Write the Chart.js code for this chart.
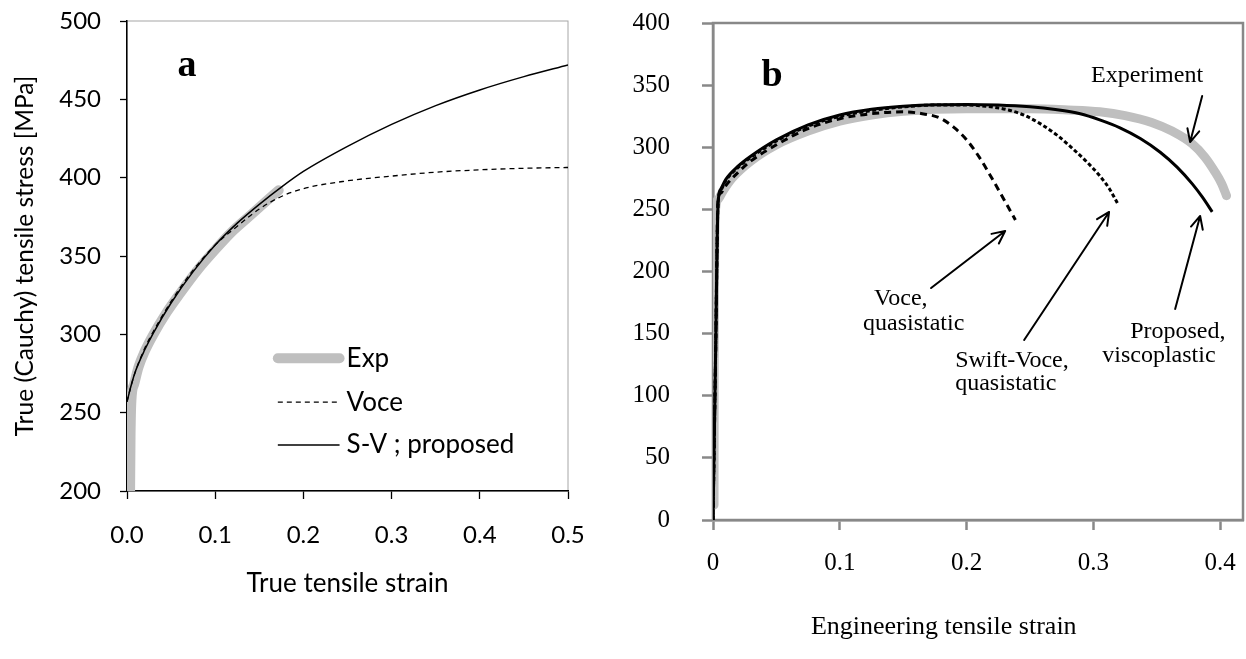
<!DOCTYPE html>
<html>
<head>
<meta charset="utf-8">
<script src="https://cdn.jsdelivr.net/npm/chart.js@4.4.0/dist/chart.umd.min.js"></script>
<style>
  body { margin: 0; background: #fff; width: 1246px; height: 659px; overflow: hidden; position: relative; }
  canvas { position: absolute; top: 0; }
  #chart-a { left: 0; }
  #chart-b { left: 620px; }
</style>
</head>
<body>
<canvas id="chart-a" width="610" height="659"></canvas>
<canvas id="chart-b" width="626" height="659"></canvas>
<script>
// ---- panel a: true stress vs true strain ----
const aExpStrain = [0.0035, 0.004, 0.005, 0.008, 0.013, 0.02, 0.03, 0.045, 0.06, 0.08, 0.1, 0.12, 0.14, 0.16, 0.172];
const aExpStress = [200, 235, 258, 268, 279, 289, 300, 314, 326, 341, 354, 366, 376, 386, 392];
const aVoceStrain = [0, 0.005, 0.01, 0.02, 0.03, 0.05, 0.075, 0.1, 0.125, 0.15, 0.175, 0.2, 0.25, 0.3, 0.35, 0.4, 0.45, 0.5];
const aVoceStress = [257, 268, 277, 291, 302, 321, 341, 357, 369, 380, 388, 393, 398, 401, 403.5, 405, 406, 406.5];
const aSvStrain = [0, 0.005, 0.01, 0.02, 0.03, 0.05, 0.075, 0.1, 0.125, 0.15, 0.175, 0.2, 0.25, 0.3, 0.35, 0.4, 0.45, 0.5];
const aSvStress = [257, 268, 277, 290, 301, 320, 340, 357, 371, 383, 394, 404, 420, 434, 446, 456, 464.5, 472];
const aStrainTicks = [0, 0.1, 0.2, 0.3, 0.4, 0.5];
const aStressTicks = [200, 250, 300, 350, 400, 450, 500];

// ---- panel b: engineering stress vs engineering strain ----
const bExpStrain = [0.0008, 0.001, 0.002, 0.004, 0.008, 0.015, 0.03, 0.05, 0.075, 0.1, 0.125, 0.15, 0.2, 0.25, 0.28, 0.305, 0.325, 0.346, 0.362, 0.378, 0.388, 0.396, 0.401, 0.405];
const bExpStress = [12, 150, 250, 258, 265, 275, 289, 302, 313, 321, 326, 329, 331, 331, 330, 328.5, 325.5, 320, 313, 302.7, 292, 280, 271, 261];
const bVoceStrain = [0, 0.002, 0.004, 0.006, 0.01, 0.02, 0.03, 0.05, 0.075, 0.1, 0.125, 0.15, 0.165, 0.179, 0.19, 0.2, 0.21, 0.22, 0.23, 0.2385];
const bVoceStress = [0, 130, 258, 263, 269, 280, 289, 302, 315, 323, 327, 328.5, 327, 323.5, 316, 306, 292, 275, 257, 241.5];
const bSwiftStrain = [0, 0.002, 0.004, 0.006, 0.01, 0.02, 0.03, 0.05, 0.075, 0.1, 0.125, 0.15, 0.175, 0.2, 0.215, 0.233, 0.246, 0.258, 0.271, 0.283, 0.295, 0.305, 0.313, 0.3195];
const bSwiftStress = [0, 130, 255, 265, 273, 284, 292, 305, 317, 325, 329.5, 332.5, 334, 334, 333, 330, 325.5, 319, 310, 299.5, 288, 277, 266, 254];
const bPropStrain = [0, 0.002, 0.004, 0.006, 0.01, 0.02, 0.03, 0.05, 0.075, 0.1, 0.125, 0.15, 0.175, 0.2, 0.225, 0.25, 0.27, 0.2896, 0.305, 0.321, 0.337, 0.3527, 0.366, 0.378, 0.386, 0.3937];
const bPropStress = [0, 130, 255, 266, 274, 285, 293, 306, 318, 326, 330.5, 333, 334.3, 334.5, 334, 332.5, 330.3, 326.9, 322, 315.6, 307, 296, 284, 270.5, 259.8, 248];
const bStrainTicks = [0, 0.1, 0.2, 0.3, 0.4];
const bStressTicks = [0, 50, 100, 150, 200, 250, 300, 350, 400];

const sans = 'Lato, "Open Sans", sans-serif';
const serif = '"Liberation Serif", "DejaVu Serif", serif';

function pts(xs, ys) {
    return xs.map((x, i) => ({ x: x, y: ys[i] }));
}

// plot-area frame, drawn before the axes so the axis lines sit on top
const frame = {
    id: 'frame',
    beforeDraw(chart, args, opts) {
        const { ctx, chartArea: a } = chart;
        ctx.save();
        ctx.strokeStyle = opts.color;
        ctx.lineWidth = opts.width;
        ctx.strokeRect(a.left, a.top, a.right - a.left, a.bottom - a.top);
        ctx.restore();
    }
};

// legend drawn inside the plot (panel a)
const innerLegend = {
    id: 'innerLegend',
    afterDatasetsDraw(chart, args, opts) {
        if (!opts.rows) return;
        const { ctx, scales: { x, y } } = chart;
        ctx.save();
        ctx.font = opts.font;
        ctx.fillStyle = '#000';
        ctx.textBaseline = 'middle';
        chart.data.datasets.forEach((ds, i) => {
            const py = y.getPixelForValue(opts.rows[i]);
            ctx.beginPath();
            ctx.strokeStyle = ds.borderColor;
            ctx.lineWidth = ds.borderWidth;
            ctx.lineCap = ds.borderCapStyle || 'butt';
            ctx.setLineDash(ds.borderDash || []);
            ctx.moveTo(x.getPixelForValue(opts.x0), py);
            ctx.lineTo(x.getPixelForValue(opts.x1), py);
            ctx.stroke();
            ctx.setLineDash([]);
            ctx.fillText(ds.label, x.getPixelForValue(opts.tx), py);
        });
        ctx.restore();
    }
};

// free text and arrows, positioned in data units
const notes = {
    id: 'notes',
    afterDatasetsDraw(chart, args, opts) {
        const { ctx, scales: { x, y } } = chart;
        ctx.save();
        ctx.fillStyle = '#000';
        ctx.textBaseline = 'alphabetic';
        (opts.texts || []).forEach(t => {
            ctx.font = t.font;
            ctx.textAlign = t.align || 'left';
            ctx.fillText(t.text, x.getPixelForValue(t.x), y.getPixelForValue(t.y));
        });
        ctx.strokeStyle = '#000';
        ctx.lineWidth = 2;
        ctx.lineCap = 'round';
        (opts.arrows || []).forEach(a => {
            const x0 = x.getPixelForValue(a.from[0]), y0 = y.getPixelForValue(a.from[1]);
            const x1 = x.getPixelForValue(a.to[0]), y1 = y.getPixelForValue(a.to[1]);
            const ang = Math.atan2(y1 - y0, x1 - x0);
            ctx.beginPath();
            ctx.moveTo(x0, y0);
            ctx.lineTo(x1, y1);
            [0.45, -0.45].forEach(d => {
                ctx.moveTo(x1, y1);
                ctx.lineTo(x1 - 14 * Math.cos(ang + d), y1 - 14 * Math.sin(ang + d));
            });
            ctx.stroke();
        });
        ctx.restore();
    }
};

const lineDefaults = { showLine: true, pointRadius: 0, cubicInterpolationMode: 'monotone' };

// panel a
new Chart(document.getElementById('chart-a'), {
    type: 'scatter',
    data: {
        datasets: [{
            label: 'Exp',
            data: pts(aExpStrain, aExpStress),
            borderColor: '#bfbfbf',
            borderWidth: 10,
            borderCapStyle: 'round',
            borderJoinStyle: 'round',
            clip: 0,
            order: 3
        }, {
            label: 'Voce',
            data: pts(aVoceStrain, aVoceStress),
            borderColor: '#000',
            borderWidth: 1.3,
            borderDash: [5, 4],
            order: 2
        }, {
            label: 'S-V ; proposed',
            data: pts(aSvStrain, aSvStress),
            borderColor: '#000',
            borderWidth: 1.5,
            order: 1
        }].map(ds => Object.assign({}, lineDefaults, ds))
    },
    options: {
        responsive: false,
        animation: false,
        devicePixelRatio: 1,
        layout: { padding: { top: 21, right: 42, left: 0, bottom: 0 } },
        plugins: {
            legend: { display: false },
            tooltip: { enabled: false },
            frame: { color: '#a6a6a6', width: 1 },
            innerLegend: { rows: [284.7, 256.7, 229.3], x0: 0.171, x1: 0.241, tx: 0.249, font: '26px ' + sans },
            notes: { texts: [{ text: 'a', x: 0.068, y: 465, font: 'bold 38px ' + serif, align: 'center' }] }
        },
        scales: {
            x: {
                type: 'linear',
                min: 0,
                max: 0.5,
                afterBuildTicks: s => { s.ticks = aStrainTicks.map(v => ({ value: v })); },
                afterFit: s => { s.height = 168; s.paddingLeft = 0; s.paddingRight = 0; },
                ticks: { callback: v => v.toFixed(1), color: '#000', font: { family: sans, size: 24 }, padding: 22, maxRotation: 0, autoSkip: false },
                grid: { drawOnChartArea: false, tickLength: 8, color: '#000', tickWidth: 1.3 },
                border: { color: '#000', width: 1.5 },
                title: { display: true, text: 'True tensile strain', color: '#000', font: { family: sans, size: 26 }, padding: { top: 0, bottom: 60 } }
            },
            y: {
                min: 200,
                max: 500,
                afterBuildTicks: s => { s.ticks = aStressTicks.map(v => ({ value: v })); },
                afterFit: s => { s.width = 127; s.paddingTop = 0; s.paddingBottom = 0; },
                ticks: { color: '#000', font: { family: sans, size: 24 }, padding: 19, autoSkip: false },
                grid: { drawOnChartArea: false, tickLength: 7, color: '#000', tickWidth: 1.3 },
                border: { color: '#000', width: 1.5 },
                title: { display: true, text: 'True (Cauchy) tensile stress [MPa]', color: '#000', font: { family: sans, size: 24.5 }, padding: { top: 10, bottom: 0 } }
            }
        }
    },
    plugins: [frame, innerLegend, notes]
});

// panel b
new Chart(document.getElementById('chart-b'), {
    type: 'scatter',
    data: {
        datasets: [{
            label: 'Experiment',
            data: pts(bExpStrain, bExpStress),
            borderColor: '#bfbfbf',
            borderWidth: 9,
            borderCapStyle: 'round',
            borderJoinStyle: 'round',
            order: 4
        }, {
            label: 'Voce, quasistatic',
            data: pts(bVoceStrain, bVoceStress),
            borderColor: '#000',
            borderWidth: 3,
            borderDash: [7, 5],
            order: 3
        }, {
            label: 'Swift-Voce, quasistatic',
            data: pts(bSwiftStrain, bSwiftStress),
            borderColor: '#000',
            borderWidth: 3,
            borderDash: [4, 2.5],
            order: 2
        }, {
            label: 'Proposed, viscoplastic',
            data: pts(bPropStrain, bPropStress),
            borderColor: '#000',
            borderWidth: 3,
            order: 1
        }].map(ds => Object.assign({}, lineDefaults, ds))
    },
    options: {
        responsive: false,
        animation: false,
        devicePixelRatio: 1,
        layout: { padding: { top: 23, right: 3, left: 0, bottom: 0 } },
        plugins: {
            legend: { display: false },
            tooltip: { enabled: false },
            frame: { color: '#888888', width: 2.5 },
            notes: {
                texts: [
                    { text: 'b', x: 0.0465, y: 349, font: 'bold 38px ' + serif, align: 'center' },
                    { text: 'Experiment', x: 0.2982, y: 352.5, font: '24px ' + serif },
                    { text: 'Voce,', x: 0.127, y: 173, font: '24px ' + serif },
                    { text: 'quasistatic', x: 0.1183, y: 153, font: '24px ' + serif },
                    { text: 'Swift-Voce,', x: 0.191, y: 123, font: '24px ' + serif },
                    { text: 'quasistatic', x: 0.191, y: 104.6, font: '24px ' + serif },
                    { text: 'Proposed,', x: 0.329, y: 146.5, font: '24px ' + serif },
                    { text: 'viscoplastic', x: 0.307, y: 127, font: '24px ' + serif },
                    { text: 'Engineering tensile strain', x: 0.182, y: -92, font: '26px ' + serif, align: 'center' }
                ],
                arrows: [
                    { from: [0.172, 186.7], to: [0.2304, 232.6] },
                    { from: [0.2454, 144.9], to: [0.3124, 247.9] },
                    { from: [0.3645, 169.8], to: [0.3842, 244.7] },
                    { from: [0.3858, 341.2], to: [0.3763, 304.2] }
                ]
            }
        },
        scales: {
            x: {
                type: 'linear',
                min: 0,
                max: 0.418,
                afterBuildTicks: s => { s.ticks = bStrainTicks.map(v => ({ value: v })); },
                afterFit: s => { s.height = 139; s.paddingLeft = 0; s.paddingRight = 0; },
                ticks: { callback: v => (v === 0 ? '0' : v.toFixed(1)), color: '#000', font: { family: serif, size: 25 }, padding: 18, maxRotation: 0, autoSkip: false },
                grid: { drawOnChartArea: false, tickLength: 10, color: '#888888', tickWidth: 2.5 },
                border: { color: '#888888', width: 2.5 }
            },
            y: {
                min: 0,
                max: 400,
                afterBuildTicks: s => { s.ticks = bStressTicks.map(v => ({ value: v })); },
                afterFit: s => { s.width = 93; s.paddingTop = 0; s.paddingBottom = 0; },
                ticks: { color: '#000', font: { family: serif, size: 25 }, padding: 32, autoSkip: false },
                grid: { drawOnChartArea: false, tickLength: 11, color: '#888888', tickWidth: 2.5 },
                border: { color: '#888888', width: 2.5 }
            }
        }
    },
    plugins: [frame, notes]
});
</script>
</body>
</html>
